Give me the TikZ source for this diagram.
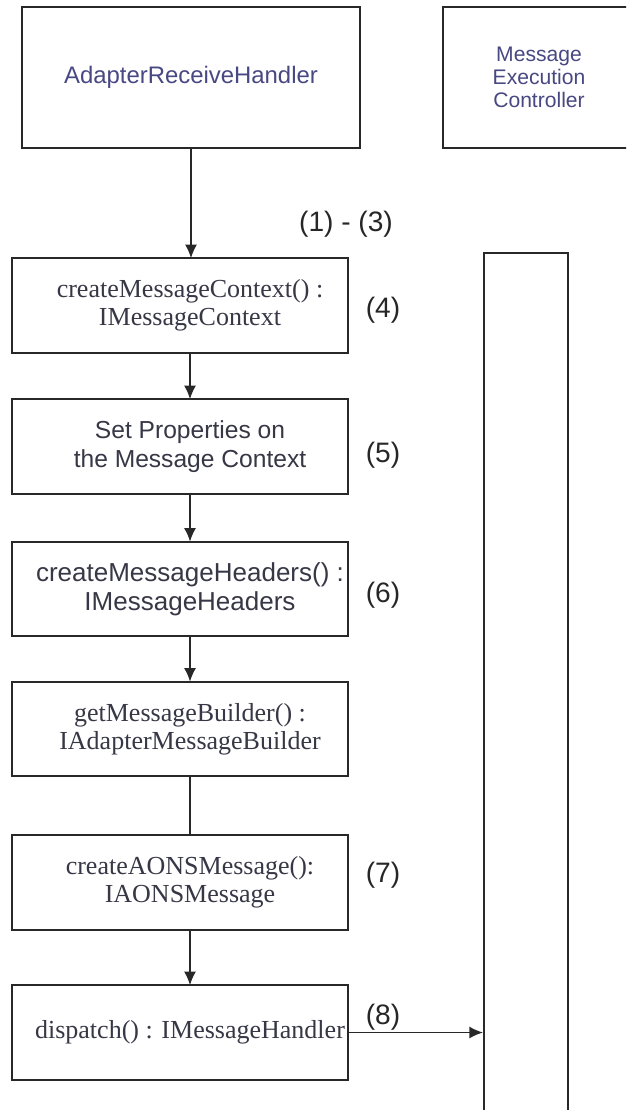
\documentclass[tikz,border=0pt]{standalone}
\usepackage{fontspec}
\setmainfont{Liberation Sans}
\newfontfamily\tnr{Liberation Serif}
\usetikzlibrary{arrows.meta}
\definecolor{namecol}{RGB}{72,72,130}
\definecolor{txtcol}{RGB}{55,55,70}
\definecolor{linecol}{RGB}{40,40,40}
\tikzset{
  boxline/.style={draw=linecol, line width=1.4pt},
  stepbox/.style={minimum width=8.4cm, minimum height=2.35cm, align=center, text=txtcol, inner sep=0pt},
  sanstext/.style={stepbox, font=\fontsize{17.5}{20.5}\selectfont},
  seriftext/.style={stepbox, font=\tnr\fontsize{18.5}{20}\selectfont},
  steplabel/.style={font=\fontsize{20}{24}\selectfont, text=black!85},
  call/.style={->, >={Latex[length=3.4mm,width=3mm]}, draw=linecol, line width=1.2pt}
}
\begin{document}
\begin{tikzpicture}
\useasboundingbox (0,0) rectangle (15.65,-27.75);
\clip (0,0) rectangle (15.65,-27.75);
\fill[white] (0,0) rectangle (15.65,-27.75);
\node[boxline, minimum width=8.45cm, minimum height=3.525cm, text=namecol, font=\fontsize{17}{20}\selectfont] (arh) at (4.775,-1.9375) {AdapterReceiveHandler};
\node[boxline, minimum width=4.8cm, minimum height=3.525cm, align=center, text=namecol, font=\fontsize{15}{16.3}\selectfont] (mec) at (13.475,-1.9375) {Message\\Execution\\Controller};
\node[boxline, minimum width=2.1cm, minimum height=21.725cm] (bar) at (13.15,-17.1875) {};
\node[seriftext] (ctx) at (4.75,-7.6375) {createMessageContext() :\\IMessageContext};
\node[sanstext] (props) at (4.75,-11.1625) {Set Properties on\\the Message Context};
\node[sanstext, font=\fontsize{18.5}{20.5}\selectfont] (hdrs) at (4.75,-14.725) {createMessageHeaders() :\\IMessageHeaders};
\node[seriftext] (bld) at (4.75,-18.225) {getMessageBuilder() :\\IAdapterMessageBuilder};
\node[seriftext] (aons) at (4.75,-22.0625) {createAONSMessage():\\IAONSMessage};
\node[seriftext] (disp) at (4.75,-25.8125) {dispatch() : IMessageHandler};
\foreach \n in {ctx,props,hdrs,bld,aons,disp}
  \draw[boxline] ([xshift=-0.25cm]\n.south west) rectangle ([xshift=-0.25cm]\n.north east);
\node[steplabel] (l13) at (8.65,-5.6) {(1) - (3)};
\node[steplabel] (l4) at (9.575,-7.75) {(4)};
\node[steplabel] (l5) at (9.575,-11.375) {(5)};
\node[steplabel] (l6) at (9.575,-14.875) {(6)};
\node[steplabel] (l7) at (9.575,-21.875) {(7)};
\node[steplabel] (l8) at (9.575,-25.42) {(8)};
\draw[call] (arh) -- (arh |- ctx.north);
\draw[call] (ctx) -- (props);
\draw[call] (props) -- (hdrs);
\draw[call] (hdrs) -- (bld);
\draw[boxline] (bld) -- (aons);
\draw[call] (aons) -- (disp);
\draw[call] ([xshift=-0.25cm]disp.east) -- (bar.west |- disp.east);
\end{tikzpicture}
\end{document}
